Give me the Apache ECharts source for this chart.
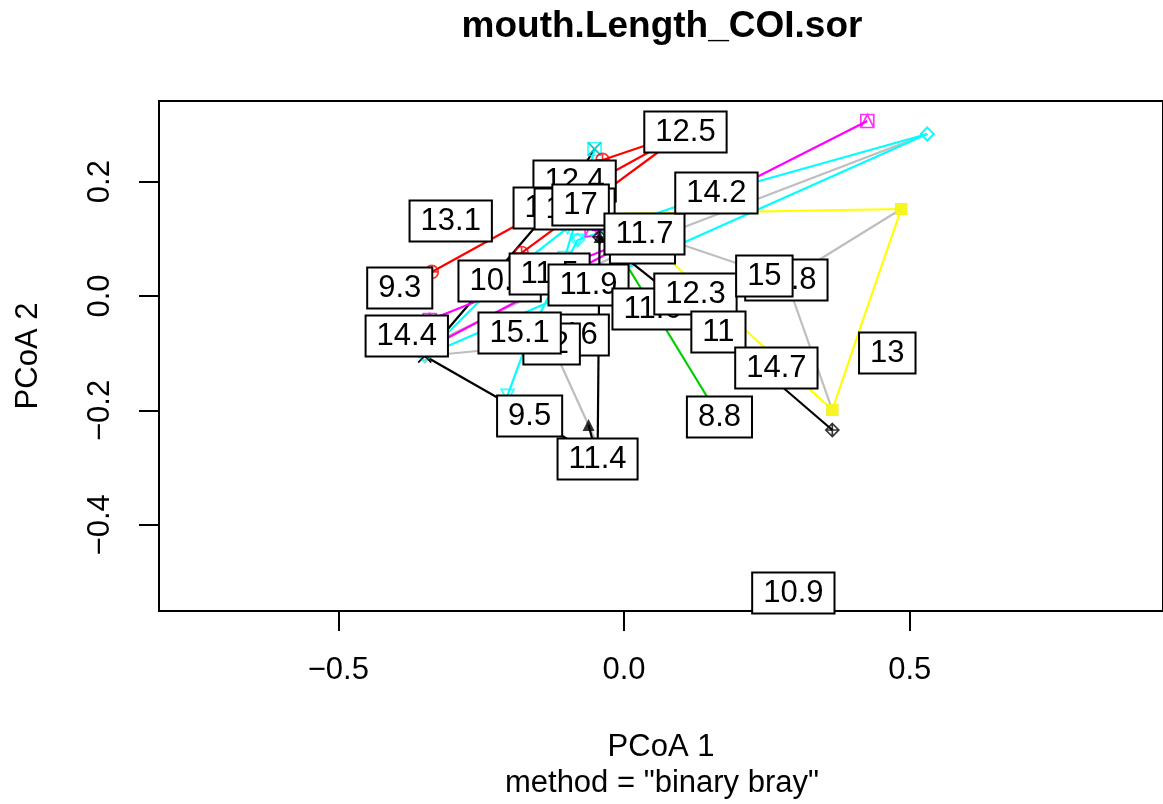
<!DOCTYPE html>
<html>
<head>
<meta charset="utf-8">
<script src="https://cdn.jsdelivr.net/npm/echarts@6/dist/echarts.min.js"></script>
<style>
  html, body { margin: 0; padding: 0; background: #ffffff; }
  #chart { width: 1163px; height: 804px; }
</style>
</head>
<body>
<div id="chart"></div>
<script>
// Group names (mouth length classes), in drawing order
const groupNames = ["13.1","9.3","14.4","12.4","11.2","11.3","17","12.5","9.7","11.7",
  "14.2","10.5","11.5","11.9","11.6","12.3","11","12.8","15","14.7",
  "13","16","12","15.1","9.5","11.4","8.8","10.9"];

// Group centres (spider hubs) in PCoA space
const centroidX = [-0.3033,-0.3925,-0.3802,-0.0865,-0.1233,-0.0079,-0.0760,0.1075,0.0323,0.0358,
  0.1617,-0.2177,-0.1302,-0.0621,0.0498,0.1250,0.1652,0.2841,0.2456,0.2666,
  0.4240,-0.0760,-0.1267,-0.1617,-0.1652,-0.0463,0.1670,0.2963];
const centroidY = [0.1311,0.0140,-0.0699,0.2010,0.1538,0.1434,0.1591,0.2867,0.0927,0.1084,
  0.1801,0.0262,0.0385,0.0192,-0.0227,0.0035,-0.0629,0.0280,0.0350,-0.1259,
  -0.0245,-0.0682,-0.0839,-0.0594,-0.2098,-0.2850,-0.2115,-0.5192];

// Where each group's boxed label sits
const labelX = [-0.3033,-0.3925,-0.3802,-0.0865,-0.1233,-0.0865,-0.0760,0.1075,0.0323,0.0358,
  0.1617,-0.2177,-0.1302,-0.0621,0.0498,0.1250,0.1652,0.2841,0.2456,0.2666,
  0.4607,-0.0760,-0.1267,-0.1827,-0.1652,-0.0463,0.1670,0.2963];
const labelY = [0.1311,0.0140,-0.0699,0.2010,0.1538,0.1521,0.1591,0.2867,0.0927,0.1084,
  0.1801,0.0262,0.0385,0.0192,-0.0227,0.0035,-0.0629,0.0280,0.0350,-0.1259,
  -0.0997,-0.0682,-0.0839,-0.0647,-0.2098,-0.2850,-0.2115,-0.5192];

// Sample scores (PCoA 1, PCoA 2) and the group each sample belongs to
const siteGroup = [0,1,2,3,3,4,5,5,6,6,7,7,7,8,8,9,9,9,9,
  10,10,11,11,12,13,13,14,15,16,16,17,17,17,18,19,20,20,21,22,22,
  23,23,24,24,25,25,26,26,27];
const siteX = [-0.3033,-0.3925,-0.3802,-0.3488,-0.0516,-0.1233,0.4851,0.3645,-0.0516,-0.1040,
  -0.3365,-0.1792,-0.0376,0.5306,-0.3226,0.4257,-0.3488,-0.3400,-0.0568,
  0.5306,-0.0813,-0.3488,-0.0988,-0.1302,0.5306,-0.3488,0.0498,0.1250,-0.0428,0.3645,
  0.4851,0.3645,0.0358,0.2456,0.2666,0.4851,0.3645,-0.0760,-0.3488,-0.0463,
  -0.2037,-0.0813,-0.3488,-0.0219,-0.0428,-0.0621,-0.0114,0.1705,0.2963];
const siteY = [0.1311,0.0140,-0.0699,-0.1049,0.2570,0.1538,0.1521,-0.1993,0.2570,0.0664,
  0.0420,0.0752,0.2378,0.2832,-0.0769,0.3059,-0.0944,-0.0420,0.1154,
  0.2832,0.0979,-0.1049,0.1189,0.0385,0.2832,-0.1049,-0.0227,0.0035,0.1031,-0.2343,
  0.1521,-0.1993,0.1119,0.0350,-0.1259,0.1521,-0.1993,-0.0682,-0.1049,-0.2605,
  -0.1731,0.0979,-0.1049,-0.2972,0.1031,-0.2255,0.0804,-0.2133,-0.5192];

// Axis tick positions
const xTicks = [-0.5, 0.0, 0.5];
const yTicks = [-0.4, -0.2, 0.0, 0.2];

// Plot window (equal scaling on both axes)
const xRange = [-0.8138, 0.9432];
const yRange = [-0.5507, 0.3409];

// ---- styling ----
const COL = { k:'#000000', r:'#FF0000', g:'#00CD00', b:'#0000FF', c:'#00FFFF', m:'#FF00FF', y:'#FFFF00', s:'#BEBEBE' };
const groupColor = ['b','r','k','k','g','y','c','r','s','m',
  'c','c','b','c','s','r','k','s','b','m',
  'y','g','s','c','k','k','g','k'].map(k => COL[k]);
const SYM = {
  circle:      { path:'path://M10,5A5,5,0,1,1,0,5A5,5,0,1,1,10,5Z', fill:false },
  circlePlus:  { path:'path://M10,5A5,5,0,1,1,0,5A5,5,0,1,1,10,5ZM5,0L5,10M0,5L10,5', fill:false },
  cross:       { path:'path://M0,0L10,10M10,0L0,10', fill:false },
  plus:        { path:'path://M5,0L5,10M0,5L10,5', fill:false },
  square:      { path:'rect', fill:true },
  squareX:     { path:'path://M0,0L10,0L10,10L0,10ZM0,0L10,10M10,0L0,10', fill:false },
  squareTri:   { path:'path://M0,0L10,0L10,10L0,10ZM0,10L5,0L10,10', fill:false },
  diamond:     { path:'path://M5,0L10,5L5,10L0,5Z', fill:false },
  diamondPlus: { path:'path://M5,0L10,5L5,10L0,5ZM5,0L5,10M0,5L10,5', fill:false },
  triDown:     { path:'path://M0,0L10,0L5,8.66Z', fill:false },
  triangle:    { path:'triangle', fill:true }
};
const groupSymbol = ['circle','circle','cross','cross','circle','square','squareX','circlePlus','diamond','squareTri',
  'diamond','triDown','circle','diamond','circle','circle','diamondPlus','square','circle','circle',
  'square','circle','triDown','triDown','cross','triangle','plus','circle'];

const FONT = '"Liberation Sans", Arial, Helvetica, sans-serif';
const fmt = v => (v < 0 ? '\u2212' : '') + Math.abs(v).toFixed(1);

// spider segments: hub -> sample
const spiderData = siteX.map((x, i) => {
  const g = siteGroup[i];
  return [centroidX[g], centroidY[g], x, siteY[i], g];
});

const pointData = siteX.map((x, i) => {
  const g = siteGroup[i];
  const s = SYM[groupSymbol[g]];
  const c = groupColor[g];
  return {
    value: [x, siteY[i]],
    symbol: s.path,
    symbolSize: s.fill ? 12 : 13,
    itemStyle: s.fill
      ? { color: c, borderWidth: 0 }
      : { color: 'rgba(0,0,0,0)', borderColor: c, borderWidth: 1.7 }
  };
});

const labelData = groupNames.map((n, i) => [labelX[i], labelY[i], i]);

const chart = echarts.init(document.getElementById('chart'), null, { renderer: 'canvas' });
chart.setOption({
  animation: false,
  backgroundColor: '#ffffff',
  grid: { left: 159, top: 101, width: 1005, height: 510, show: true, borderColor: '#000', borderWidth: 2, backgroundColor: 'transparent' },
  xAxis: {
    type: 'value', min: xRange[0], max: xRange[1],
    axisLine: { show: false, onZero: false },
    splitLine: { show: false },
    axisTick: { show: true, length: 20, lineStyle: { color: '#000', width: 2 }, customValues: xTicks },
    axisLabel: { customValues: xTicks, formatter: fmt, margin: 44, fontSize: 31, fontFamily: FONT, color: '#000' },
    name: 'PCoA 1', nameLocation: 'middle', nameGap: 121,
    nameTextStyle: { fontSize: 31, fontFamily: FONT, color: '#000' }
  },
  yAxis: {
    type: 'value', min: yRange[0], max: yRange[1],
    axisLine: { show: false, onZero: false },
    splitLine: { show: false },
    axisTick: { show: true, length: 20, lineStyle: { color: '#000', width: 2 }, customValues: yTicks },
    axisLabel: { customValues: yTicks, formatter: fmt, rotate: 90, margin: 43, fontSize: 31, fontFamily: FONT, color: '#000' },
    name: 'PCoA 2', nameLocation: 'middle', nameGap: 115, nameRotate: 90,
    nameTextStyle: { fontSize: 31, fontFamily: FONT, color: '#000' }
  },
  graphic: [
    { type: 'text', x: 662, y: 27, z: 10,
      style: { text: 'mouth.Length_COI.sor', font: 'bold 37px ' + FONT, fill: '#000',
               align: 'center', verticalAlign: 'middle', textAlign: 'center', textVerticalAlign: 'middle' } },
    { type: 'text', x: 662, y: 783, z: 10,
      style: { text: 'method = "binary bray"', font: '31px ' + FONT, fill: '#000',
               align: 'center', verticalAlign: 'middle', textAlign: 'center', textVerticalAlign: 'middle' } }
  ],
  series: [
    {
      type: 'custom', name: 'spider', z: 2, clip: false,
      data: spiderData,
      encode: { x: [0, 2], y: [1, 3] },
      renderItem: function (params, api) {
        const a = api.coord([api.value(0), api.value(1)]);
        const b = api.coord([api.value(2), api.value(3)]);
        return { type: 'line', shape: { x1: a[0], y1: a[1], x2: b[0], y2: b[1] },
                 style: { stroke: groupColor[api.value(4)], lineWidth: 2.2 } };
      }
    },
    {
      type: 'scatter', name: 'samples', z: 3, symbolKeepAspect: true,
      data: pointData
    },
    {
      type: 'custom', name: 'labels', z: 4, clip: false,
      data: labelData,
      encode: { x: 0, y: 1 },
      renderItem: function (params, api) {
        const p = api.coord([api.value(0), api.value(1)]);
        return { type: 'text', x: p[0], y: p[1],
                 style: { text: groupNames[api.value(2)], font: '31px ' + FONT, fill: '#000',
                          align: 'center', verticalAlign: 'middle',
                          backgroundColor: '#ffffff', borderColor: '#000', borderWidth: 2,
                          padding: [4, 10] } };
      }
    }
  ]
});
</script>
</body>
</html>
